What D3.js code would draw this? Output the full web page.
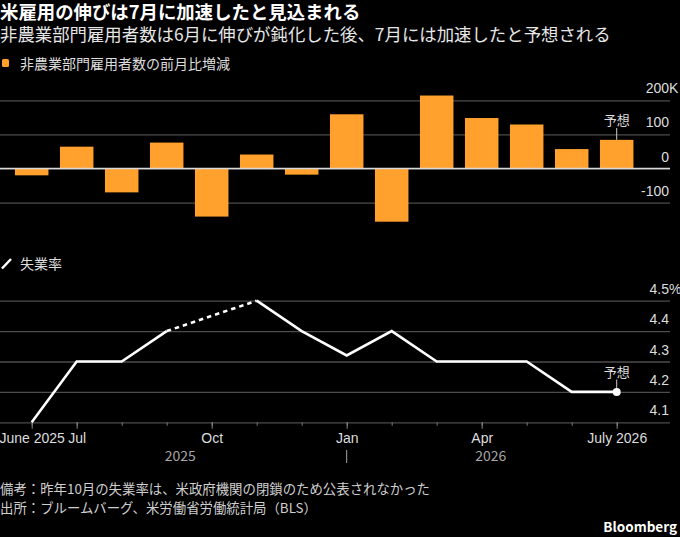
<!DOCTYPE html>
<html>
<head>
<meta charset="utf-8">
<script src="https://cdn.jsdelivr.net/npm/d3@7"></script>
<style>
  html, body { margin: 0; padding: 0; background: #000; }
  svg { display: block; font-family: "Noto Sans CJK JP", "Noto Sans", sans-serif; }
</style>
</head>
<body>
<svg id="chart" width="680" height="537"></svg>
<script>
// months shown on the x axis (June 2025 .. July 2026)
var months = ["2025-06", "2025-07", "2025-08", "2025-09", "2025-10", "2025-11", "2025-12",
              "2026-01", "2026-02", "2026-03", "2026-04", "2026-05", "2026-06", "2026-07"];
// nonfarm payroll change, thousands (last one is the forecast)
var payrolls = [-20, 64, -70, 76, -141, 41, -18, 159, -156, 214, 148, 129, 57, 84];
// unemployment rate, % (October 2025 not published)
var jobless = [4.1, 4.3, 4.3, 4.4, null, 4.5, 4.4, 4.32, 4.4, 4.3, 4.3, 4.3, 4.2, 4.2];

var barTicks = [-100, 0, 100, 200];
var rateTicks = [4.1, 4.2, 4.3, 4.4, 4.5];
var monthLabels = { "2025-06": "June 2025", "2025-07": "Jul", "2025-10": "Oct",
                    "2026-01": "Jan", "2026-04": "Apr", "2026-07": "July 2026" };
var years = [{ label: "2025", at: 3.3 }, { label: "2026", at: 10.2 }];

var svg = d3.select("#chart");
var gridRight = 670, labelRight = 669;
var orange = "#ffa12c";

//titles
svg.append("text").attr("x", 0).attr("y", 19)
   .attr("fill", "#fff").attr("font-size", 18.4).attr("font-weight", "bold")
   .text("米雇用の伸びは7月に加速したと見込まれる");
svg.append("text").attr("x", 0).attr("y", 41)
   .attr("fill", "#e6e6e6").attr("font-size", 17.4)
   .text("非農業部門雇用者数は6月に伸びが鈍化した後、7月には加速したと予想される");

//legend 1
svg.append("rect").attr("x", 2).attr("y", 59).attr("width", 7).attr("height", 8)
   .attr("rx", 1.5).attr("fill", orange);
svg.append("text").attr("x", 20).attr("y", 68.5)
   .attr("fill", "#ddd").attr("font-size", 14)
   .text("非農業部門雇用者数の前月比増減");

var x = d3.scalePoint().domain(months).range([31.7, 616.7]);
var bw = 33.5;

// ---- top panel: bars
var y1 = d3.scaleLinear().domain([-100, 200]).range([202.6, 100.3]);

var gAxis1 = svg.append("g")
   .call(d3.axisLeft(y1).tickValues(barTicks).tickSize(-gridRight)
         .tickFormat(function (d) { return d; }));
gAxis1.select(".domain").remove();
gAxis1.selectAll(".tick line").attr("stroke", "#4d4d4d").attr("stroke-width", 1.3);
gAxis1.selectAll(".tick text")
   .attr("x", labelRight).attr("dy", -7.5).attr("text-anchor", "end")
   .attr("fill", "#ddd").attr("font-size", 14).attr("font-family", null);
gAxis1.selectAll(".tick").filter(function (d) { return d === 200; })
   .append("text").attr("x", labelRight).attr("dy", -7.5)
   .attr("fill", "#ddd").attr("font-size", 14).attr("text-anchor", "start").text("K");

svg.append("g").selectAll("rect")
   .data(payrolls)
   .enter().append("rect")
   .attr("x", function (d, i) { return x(months[i]) - bw / 2; })
   .attr("y", function (d) { return y1(Math.max(0, d)); })
   .attr("width", bw)
   .attr("height", function (d) { return Math.abs(y1(d) - y1(0)); })
   .attr("fill", orange);

svg.append("line").attr("x1", 0).attr("x2", gridRight)
   .attr("y1", y1(0)).attr("y2", y1(0))
   .attr("stroke", "#d9d9d9").attr("stroke-width", 1.3);

var lastM = months[months.length - 1];
var lastBar = payrolls[payrolls.length - 1];
svg.append("line").attr("x1", x(lastM)).attr("x2", x(lastM))
   .attr("y1", 128).attr("y2", y1(lastBar))
   .attr("stroke", "#ccc").attr("stroke-width", 1);
svg.append("text").attr("x", x(lastM)).attr("y", 124.5).attr("text-anchor", "middle")
   .attr("fill", "#ddd").attr("font-size", 13).text("予想");

// ---- bottom panel: unemployment
svg.append("line").attr("x1", 2).attr("y1", 268.5).attr("x2", 11).attr("y2", 259)
   .attr("stroke", "#fff").attr("stroke-width", 2.5);
svg.append("text").attr("x", 20).attr("y", 269)
   .attr("fill", "#ddd").attr("font-size", 14).text("失業率");

var y2 = d3.scaleLinear().domain([4.1, 4.5]).range([422.3, 300.7]);

var gAxis2 = svg.append("g")
   .call(d3.axisLeft(y2).tickValues(rateTicks).tickSize(-gridRight)
         .tickFormat(d3.format(".1f")));
gAxis2.select(".domain").remove();
gAxis2.selectAll(".tick line").attr("stroke", "#4d4d4d").attr("stroke-width", 1.3);
gAxis2.selectAll(".tick text")
   .attr("x", labelRight).attr("dy", -7.5).attr("text-anchor", "end")
   .attr("fill", "#ddd").attr("font-size", 14).attr("font-family", null);
gAxis2.selectAll(".tick").filter(function (d) { return d === 4.5; })
   .append("text").attr("x", labelRight).attr("dy", -7.5)
   .attr("fill", "#ddd").attr("font-size", 14).attr("text-anchor", "start").text("%");

// x axis: short ticks for every month, longer ones with labels
var base = y2(4.1);
var gx = svg.append("g").attr("transform", "translate(0," + base + ")")
   .call(d3.axisBottom(x).tickSize(3.5).tickFormat(""));
gx.select(".domain").remove();
gx.selectAll(".tick line").attr("stroke", "#777");

var gx2 = svg.append("g").attr("transform", "translate(0," + base + ")")
   .call(d3.axisBottom(x).tickValues(Object.keys(monthLabels)).tickSize(6.5).tickPadding(4)
         .tickFormat(function (d) { return monthLabels[d]; }));
gx2.select(".domain").remove();
gx2.selectAll(".tick line").attr("stroke", "#888");
gx2.selectAll(".tick text").attr("fill", "#ddd").attr("font-size", 14).attr("font-family", null);

// year labels and the separator under Jan
var step = x.step();
svg.append("g").selectAll("text").data(years).enter().append("text")
   .attr("x", function (d) { return x(months[0]) + d.at * step; })
   .attr("y", 461).attr("text-anchor", "middle")
   .attr("fill", "#a6a6a6").attr("font-size", 14)
   .text(function (d) { return d.label; });
svg.append("line").attr("x1", x("2026-01")).attr("x2", x("2026-01"))
   .attr("y1", 450).attr("y2", 463).attr("stroke", "#a6a6a6").attr("stroke-width", 1);

var pts = months.map(function (m, i) { return { m: m, v: jobless[i] }; });
var line = d3.line()
   .defined(function (d) { return d.v !== null; })
   .x(function (d) { return x(d.m); })
   .y(function (d) { return y2(d.v); });

// dashed bridges over missing months: previous known point -> next known point
var gaps = [];
pts.forEach(function (d, i) {
  if (d.v === null && i > 0 && pts[i - 1].v !== null) {
    var j = i;
    while (j < pts.length && pts[j].v === null) j++;
    if (j < pts.length) gaps.push([pts[i - 1], pts[j]]);
  }
});
svg.append("g").selectAll("path").data(gaps).enter().append("path")
   .attr("d", line).attr("fill", "none")
   .attr("stroke", "#fff").attr("stroke-width", 2.6).attr("stroke-dasharray", "4.5,4");

svg.append("path").datum(pts)
   .attr("d", line).attr("fill", "none")
   .attr("stroke", "#fff").attr("stroke-width", 2.6);

var last = pts[pts.length - 1];
svg.append("circle").attr("cx", x(last.m)).attr("cy", y2(last.v)).attr("r", 4)
   .attr("fill", "#fff");
svg.append("line").attr("x1", x(last.m)).attr("x2", x(last.m))
   .attr("y1", 379.5).attr("y2", y2(last.v) - 4)
   .attr("stroke", "#ccc").attr("stroke-width", 1);
svg.append("text").attr("x", x(last.m)).attr("y", 377).attr("text-anchor", "middle")
   .attr("fill", "#ddd").attr("font-size", 13).text("予想");

//footer
svg.append("text").attr("x", 0).attr("y", 494)
   .attr("fill", "#cfcfcf").attr("font-size", 13.4)
   .text("備考：昨年10月の失業率は、米政府機関の閉鎖のため公表されなかった");
svg.append("text").attr("x", 0).attr("y", 513)
   .attr("fill", "#cfcfcf").attr("font-size", 13.4)
   .text("出所：ブルームバーグ、米労働省労働統計局（BLS）");
svg.append("text").attr("x", 677).attr("y", 532).attr("text-anchor", "end")
   .attr("fill", "#fff").attr("font-size", 13.5).attr("font-weight", "bold")
   .text("Bloomberg");
</script>
</body>
</html>
